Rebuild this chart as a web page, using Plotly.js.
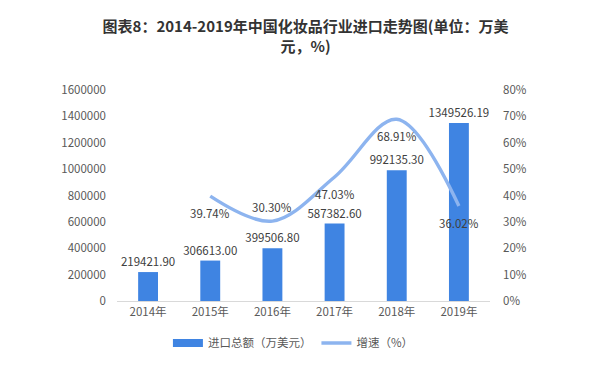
<!DOCTYPE html>
<html><head><meta charset="utf-8">
<script src="https://cdn.plot.ly/plotly-3.0.1.min.js"></script>
<style>html,body{margin:0;padding:0;background:#fff}#chart{width:611px;height:369px}</style>
</head><body><div id="chart"></div>
<script>
const years = ['2014年','2015年','2016年','2017年','2018年','2019年'];
const importValues = [219421.90, 306613.00, 399506.80, 587382.60, 992135.30, 1349526.19];
const growthYears = ['2015年','2016年','2017年','2018年','2019年'];
const growthRates = [39.74, 30.30, 47.03, 68.91, 36.02];
const growthLabelSide = ['below','above','below','below','below'];

const font = 'Noto Sans CJK SC, Noto Sans, sans-serif';
const barColor = '#3f84e2';
const lineColor = '#8db4ef';
const data = [
  {type:'bar', x:years, y:importValues, name:'进口总额（万美元）', showlegend:false,
   marker:{color:barColor}, width:0.32, constraintext:'none',
   text:importValues.map(v=>v.toFixed(2)), textposition:'outside', cliponaxis:false,
   textfont:{size:11.5,color:'#404040',family:font}},
  {type:'scatter', mode:'lines', x:[null], y:[null], name:'进口总额（万美元）',
   line:{color:barColor, width:8}, hoverinfo:'skip'},
  {type:'scatter', mode:'lines', x:growthYears, y:growthRates, yaxis:'y2', name:'增速（%）',
   line:{color:lineColor, width:3.4, shape:'spline', smoothing:1}}
];
const annotations = growthYears.map((yr,i)=>({
  x:yr, y:growthRates[i], xref:'x', yref:'y2', text:growthRates[i].toFixed(2)+'%',
  showarrow:false, yshift: growthLabelSide[i]==='below' ? -17 : 14,
  font:{size:11.5,color:'#404040',family:font}
}));
const layout = {
  width:611, height:369,
  margin:{l:117, r:121, t:90, b:68},
  paper_bgcolor:'#fff', plot_bgcolor:'#fff',
  font:{family:font, color:'#595959', size:11},
  title:{text:'<b>图表8：2014-2019年中国化妆品行业进口走势图(单位：万美</b><br><b>元，%)</b>',
         x:0.5, xanchor:'center', y:0.912, yanchor:'top', font:{size:15,color:'#333',family:font}},
  xaxis:{type:'category', showgrid:false, zeroline:false, showline:true, linecolor:'#d9d9d9', linewidth:1,
         ticks:'', tickfont:{size:11.5,color:'#595959'}},
  yaxis:{range:[0,1600000], dtick:200000, showgrid:false, zeroline:false, showline:false,
         tickformat:'d', ticks:'', ticklabelstandoff:10, tickfont:{size:11.5,color:'#595959'}},
  yaxis2:{range:[0,80], dtick:10, overlaying:'y', side:'right', showgrid:false, zeroline:false,
          showline:false, ticksuffix:'%', ticks:'', ticklabelstandoff:12, tickfont:{size:11.5,color:'#595959'}},
  showlegend:true,
  legend:{orientation:'h', x:0.473, xanchor:'center', y:-0.13, yanchor:'top',
          font:{size:11.5,color:'#595959'}, itemwidth:30},
  annotations:annotations
};
Plotly.newPlot('chart', data, layout, {displayModeBar:false, staticPlot:true});
</script></body></html>
